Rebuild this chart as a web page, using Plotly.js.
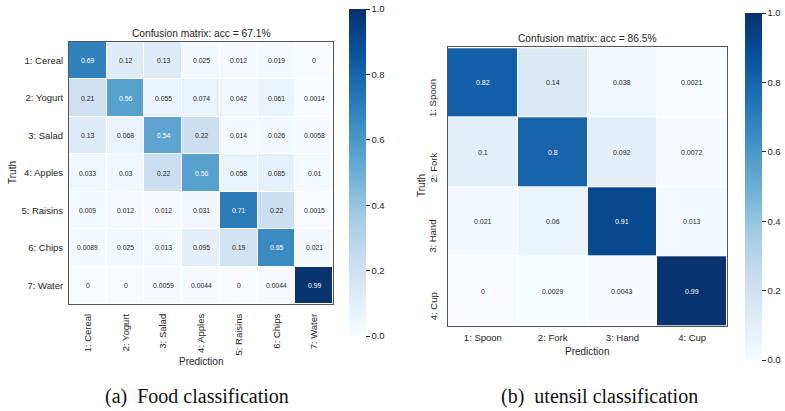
<!DOCTYPE html>
<html>
<head>
<meta charset="utf-8">
<script src="https://cdn.plot.ly/plotly-3.0.1.min.js"></script>
<style>html,body{margin:0;padding:0;background:#fff;}#chart{width:785px;height:411px;}</style>
</head>
<body>
<div id="chart"></div>
<script>
// ---- data ----
const foodLabels = ["1: Cereal", "2: Yogurt", "3: Salad", "4: Apples", "5: Raisins", "6: Chips", "7: Water"];
const foodValues = [
  [0.69, 0.12, 0.13, 0.025, 0.012, 0.019, 0],
  [0.21, 0.56, 0.055, 0.074, 0.042, 0.061, 0.0014],
  [0.13, 0.068, 0.54, 0.22, 0.014, 0.026, 0.0058],
  [0.033, 0.03, 0.22, 0.56, 0.058, 0.085, 0.01],
  [0.009, 0.012, 0.012, 0.031, 0.71, 0.22, 0.0015],
  [0.0089, 0.025, 0.013, 0.095, 0.19, 0.65, 0.021],
  [0, 0, 0.0059, 0.0044, 0, 0.0044, 0.99]
];
const foodTitle = "Confusion matrix: acc = 67.1%";

const utensilLabels = ["1: Spoon", "2: Fork", "3: Hand", "4: Cup"];
const utensilValues = [
  [0.82, 0.14, 0.038, 0.0021],
  [0.1, 0.8, 0.092, 0.0072],
  [0.021, 0.06, 0.91, 0.013],
  [0, 0.0029, 0.0043, 0.99]
];
const utensilTitle = "Confusion matrix: acc = 86.5%";

const captions = ["(a)  Food classification", "(b)  utensil classification"];
const colorbarTicks = [0, 0.2, 0.4, 0.6, 0.8, 1.0];

// ---- styling ----
const W = 785, H = 411;
const ink = "#262626";
const blues = [
  [0.0, "#f7fbff"], [0.125, "#deebf7"], [0.25, "#c6dbef"], [0.375, "#9ecae1"],
  [0.5, "#6baed6"], [0.625, "#4292c6"], [0.75, "#2171b5"], [0.875, "#08519c"], [1.0, "#08306b"]
];
const fontFam = "Liberation Sans, Arial, sans-serif";
const tickSize = 9.5;

function px2x(p) { return p / W; }
function px2y(p) { return 1 - p / H; }

function cbar(xLeft, yTop, yBot, thick) {
  return {
    x: px2x(xLeft), xanchor: "left", xpad: 0,
    y: px2y(yTop), yanchor: "top", ypad: 0,
    len: yBot - yTop, lenmode: "pixels",
    thickness: thick, thicknessmode: "pixels",
    outlinewidth: 0,
    tickvals: colorbarTicks, tickformat: ".1f",
    ticks: "outside", ticklen: 4, tickwidth: 1, tickcolor: ink,
    tickfont: { family: fontFam, size: tickSize, color: ink }
  };
}

const traces = [
  {
    type: "heatmap", x: foodLabels, y: foodLabels, z: foodValues,
    zmin: 0, zmax: 1, colorscale: blues, xaxis: "x", yaxis: "y",
    xgap: 1, ygap: 1, hoverinfo: "skip",
    colorbar: cbar(349, 9, 336, 17)
  },
  {
    type: "heatmap", x: utensilLabels, y: utensilLabels, z: utensilValues,
    zmin: 0, zmax: 1, colorscale: blues, xaxis: "x2", yaxis: "y2",
    xgap: 1, ygap: 1, hoverinfo: "skip",
    colorbar: cbar(745, 13, 360, 17)
  }
];

const annotations = [];
function cellText(labels, values, xr, yr, size) {
  for (let i = 0; i < values.length; i++) {
    for (let j = 0; j < values[i].length; j++) {
      const v = values[i][j];
      annotations.push({
        x: labels[j], y: labels[i], xref: xr, yref: yr,
        text: String(v), showarrow: false,
        font: { family: fontFam, size: size, color: v > 0.45 ? "#ffffff" : ink }
      });
    }
  }
}
cellText(foodLabels, foodValues, "x", "y", 6.8);
cellText(utensilLabels, utensilValues, "x2", "y2", 7);

// right-hand row labels (rotated, sitting low in each row as in the reference)
utensilLabels.forEach(function (lab) {
  annotations.push({
    xref: "paper", yref: "y2", x: px2x(433), y: lab, yshift: -15,
    text: lab, textangle: -90, showarrow: false, xanchor: "center", yanchor: "middle",
    font: { family: fontFam, size: tickSize, color: ink }
  });
});

// titles
annotations.push({ xref: "paper", yref: "paper", x: px2x(201), y: px2y(33), text: foodTitle,
  showarrow: false, xanchor: "center", yanchor: "middle", font: { family: fontFam, size: 10.2, color: ink } });
annotations.push({ xref: "paper", yref: "paper", x: px2x(587), y: px2y(38), text: utensilTitle,
  showarrow: false, xanchor: "center", yanchor: "middle", font: { family: fontFam, size: 10.2, color: ink } });
// axis titles
annotations.push({ xref: "paper", yref: "paper", x: px2x(12), y: px2y(173), text: "Truth", textangle: -90,
  showarrow: false, xanchor: "center", yanchor: "middle", font: { family: fontFam, size: 10, color: ink } });
annotations.push({ xref: "paper", yref: "paper", x: px2x(201), y: px2y(361), text: "Prediction",
  showarrow: false, xanchor: "center", yanchor: "middle", font: { family: fontFam, size: 10, color: ink } });
annotations.push({ xref: "paper", yref: "paper", x: px2x(421), y: px2y(186), text: "Truth", textangle: -90,
  showarrow: false, xanchor: "center", yanchor: "middle", font: { family: fontFam, size: 10, color: ink } });
annotations.push({ xref: "paper", yref: "paper", x: px2x(587), y: px2y(351), text: "Prediction",
  showarrow: false, xanchor: "center", yanchor: "middle", font: { family: fontFam, size: 10, color: ink } });
// captions
annotations.push({ xref: "paper", yref: "paper", x: px2x(197), y: px2y(396), text: captions[0],
  showarrow: false, xanchor: "center", yanchor: "middle", font: { family: "Liberation Serif, serif", size: 20, color: "#111" } });
annotations.push({ xref: "paper", yref: "paper", x: px2x(599), y: px2y(396), text: captions[1],
  showarrow: false, xanchor: "center", yanchor: "middle", font: { family: "Liberation Serif, serif", size: 20, color: "#111" } });

function axisBase() {
  return {
    showgrid: false, zeroline: false, automargin: false,
    showline: true, mirror: true, linecolor: "#555", linewidth: 1,
    ticks: "", tickfont: { family: fontFam, size: tickSize, color: ink }
  };
}

const layout = {
  width: W, height: H,
  margin: { l: 0, r: 0, t: 0, b: 0 },
  paper_bgcolor: "#ffffff", plot_bgcolor: "#ffffff",
  showlegend: false,
  xaxis: Object.assign(axisBase(), { domain: [px2x(69), px2x(333)], anchor: "y", tickangle: -90, ticklabelstandoff: 5 }),
  yaxis: Object.assign(axisBase(), { domain: [px2y(304), px2y(42)], anchor: "x", autorange: "reversed", ticklabelstandoff: 3 }),
  xaxis2: Object.assign(axisBase(), { domain: [px2x(448), px2x(727)], anchor: "y2", tickangle: 0, ticklabelstandoff: 3 }),
  yaxis2: Object.assign(axisBase(), { domain: [px2y(326), px2y(47)], anchor: "x2", autorange: "reversed", showticklabels: false }),
  annotations: annotations
};

Plotly.newPlot("chart", traces, layout, { staticPlot: true, displayModeBar: false });
</script>
</body>
</html>
